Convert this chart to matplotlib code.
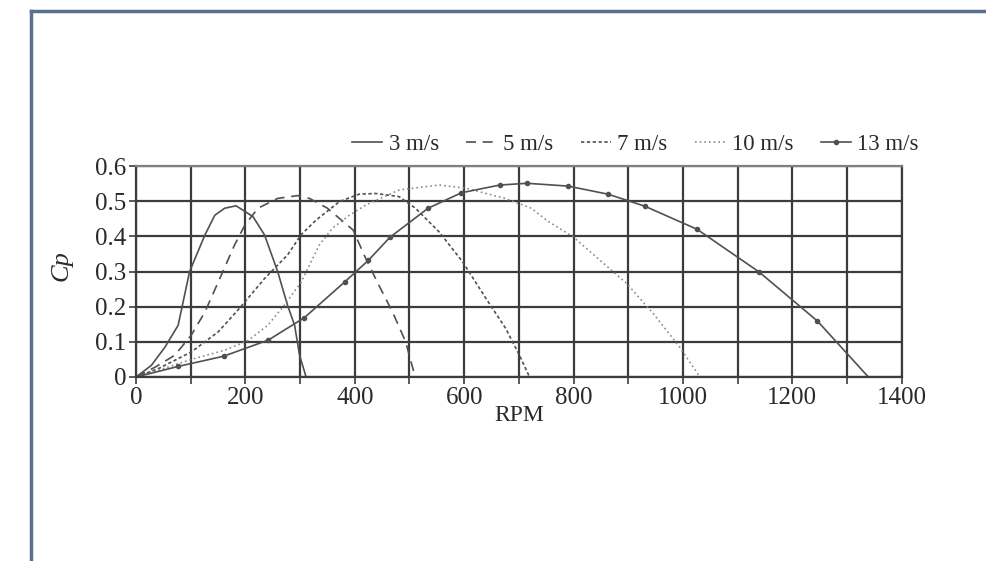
import matplotlib
matplotlib.use("Agg")
import matplotlib.pyplot as plt
from matplotlib.lines import Line2D
from matplotlib.ticker import MultipleLocator, FuncFormatter

plt.rcParams['font.family'] = ['Liberation Serif', 'DejaVu Serif']

# Cp vs RPM
rpm_3 = [0, 28, 53, 77, 98, 126, 144, 162, 183, 214, 235, 259, 277, 290, 299, 311]
cp_3 = [0, 0.033, 0.085, 0.147, 0.30, 0.404, 0.46, 0.48, 0.487, 0.456, 0.404, 0.30, 0.204, 0.147, 0.062, 0]

rpm_5 = [0, 35, 71, 101, 126, 156, 180, 199, 223, 259, 296, 317, 350, 372, 397, 420, 444, 469, 493, 508, 511]
cp_5 = [0, 0.028, 0.062, 0.119, 0.185, 0.29, 0.375, 0.432, 0.48, 0.508, 0.516, 0.508, 0.48, 0.451,
        0.418, 0.337, 0.261, 0.185, 0.10, 0.014, 0]

rpm_7 = [0, 41, 101, 150, 189, 235, 277, 302, 329, 372, 408, 438, 481, 511, 554, 597, 640, 676, 701, 718, 721]
cp_7 = [0, 0.024, 0.071, 0.128, 0.195, 0.28, 0.347, 0.405, 0.446, 0.499, 0.52, 0.522, 0.513, 0.48,
        0.413, 0.328, 0.223, 0.138, 0.062, 0.005, 0]

rpm_10 = [0, 41, 101, 162, 205, 241, 271, 302, 335, 359, 390, 420, 481, 554, 603, 675, 723, 754,
          799, 897, 946, 994, 1031]
cp_10 = [0, 0.019, 0.05, 0.076, 0.104, 0.147, 0.204, 0.27, 0.375, 0.423, 0.46, 0.489, 0.532, 0.546,
         0.537, 0.508, 0.48, 0.442, 0.399, 0.266, 0.18, 0.085, 0]

rpm_13 = [0, 77, 160, 242, 308, 382, 425, 464, 534, 595, 665, 715, 790, 863, 930, 1026, 1139, 1246, 1339]
cp_13 = [0, 0.030, 0.059, 0.105, 0.169, 0.271, 0.332, 0.397, 0.48, 0.524, 0.546, 0.551, 0.543, 0.52,
         0.486, 0.42, 0.299, 0.159, 0]

labels = ['3 m/s', '5 m/s', '7 m/s', '10 m/s', '13 m/s']

fig = plt.figure(figsize=(9.87, 5.61), dpi=100)
fig.patch.set_facecolor('white')

# blue-grey frame of the screenshot
fig.add_artist(Line2D([0.031, 1.0], [0.980, 0.980], transform=fig.transFigure,
                      color='#5b6f8e', lw=2.5))
fig.add_artist(Line2D([0.031, 0.031], [0.0, 0.980], transform=fig.transFigure,
                      color='#5b6f8e', lw=2.5))

ax = fig.add_axes([0.1378, 0.328, 0.7758, 0.376])

c = '#505050'
ax.plot(rpm_3, cp_3, color=c, lw=1.2, ls='-', label=labels[0])
ax.plot(rpm_5, cp_5, color=c, lw=1.2, ls=(0, (6, 4)), label=labels[1])
ax.plot(rpm_7, cp_7, color=c, lw=1.2, ls=(0, (2, 1.5)), label=labels[2])
ax.plot(rpm_10, cp_10, color='#8a8a8a', lw=1.2, ls=(0, (1, 1.8)), label=labels[3])
ax.plot(rpm_13, cp_13, color=c, lw=1.2, ls='-', marker='o', ms=3,
        markevery=list(range(1, len(rpm_13) - 1)), label=labels[4])

ax.set_xlim(0, 1400)
ax.set_ylim(0, 0.6)
ax.xaxis.set_major_locator(MultipleLocator(200))
ax.xaxis.set_minor_locator(MultipleLocator(100))
ax.yaxis.set_major_locator(MultipleLocator(0.1))
ax.yaxis.set_major_formatter(FuncFormatter(lambda v, p: '0' if abs(v) < 1e-9 else '%.1f' % v))
ax.grid(True, which='both', color='#3c3c3c', lw=1.6)
ax.set_axisbelow(True)
ax.tick_params(which='both', direction='out', length=5, width=1.2, colors='#3c3c3c',
               labelsize=18, labelcolor='#2a2a2a', pad=2)
for s in ax.spines.values():
    s.set_color('#3c3c3c')
    s.set_linewidth(1.6)
ax.spines['top'].set_color('#808080')

ax.set_xlabel('RPM', fontsize=17, color='#2a2a2a', labelpad=-3)
ax.set_ylabel('Cp', fontsize=19, style='italic', color='#2a2a2a')
ax.yaxis.set_label_coords(-0.083, 0.53)

fig.legend(loc='center right', bbox_to_anchor=(0.952, 0.742), ncol=5, frameon=False,
           fontsize=16.5, handlelength=1.3, handletextpad=0.3, columnspacing=1.2,
           labelcolor='#2a2a2a')

fig.savefig('out.png', dpi=100, facecolor='white')
